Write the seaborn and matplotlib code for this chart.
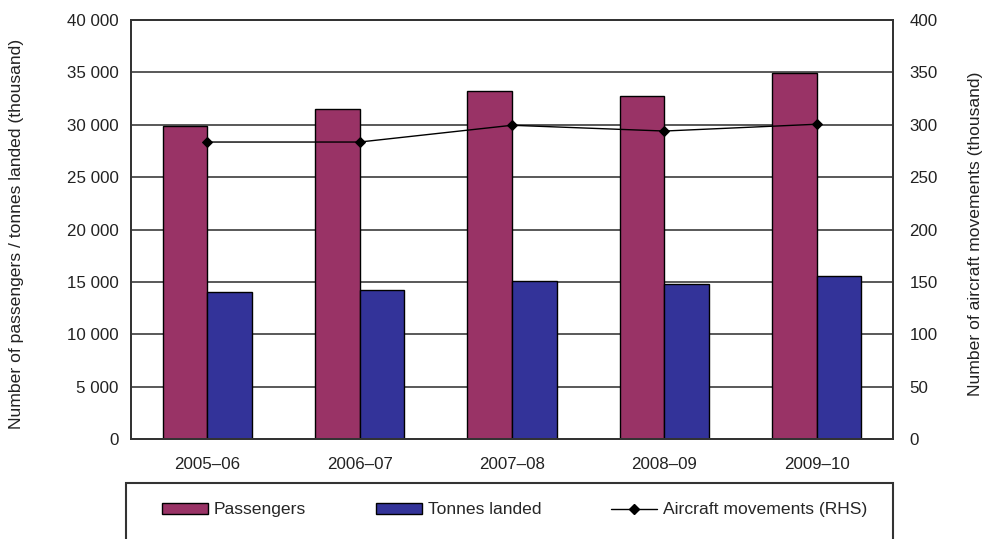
import pandas as pd
import seaborn as sns
import matplotlib.pyplot as plt
from matplotlib.patches import Rectangle, Patch
from matplotlib.lines import Line2D
from matplotlib.ticker import FuncFormatter, FixedLocator

years = ["2005–06", "2006–07", "2007–08", "2008–09", "2009–10"]
passengers = [29850, 31500, 33200, 32750, 34900]
tonnes = [14000, 14200, 15100, 14800, 15550]
aircraft = [283.5, 283.5, 299.5, 294, 300.5]

c_pass = "#993366"
c_tonnes = "#333399"

sns.set_style("white")
plt.rcParams['font.family'] = ['Liberation Sans', 'DejaVu Sans']

bars = pd.DataFrame({
    'year': years * 2,
    'series': ['Passengers'] * len(years) + ['Tonnes landed'] * len(years),
    'value': passengers + tonnes,
})
lines = pd.DataFrame({'year': years, 'aircraft': aircraft})

fig = plt.figure(figsize=(9.83, 5.39), dpi=100)
ax = fig.add_axes([0.1333, 0.1855, 0.7751, 0.7774])

sns.barplot(data=bars, x='year', y='value', hue='series',
            palette=[c_pass, c_tonnes], width=0.585, dodge=True,
            edgecolor='black', linewidth=1, saturation=1, ax=ax, legend=False)
ax.set_ylim(0, 40000)
ax.set_xlim(-0.5, len(years) - 0.5)
ax.set_yticks(range(0, 40001, 5000))
ax.yaxis.set_major_formatter(FuncFormatter(lambda v, p: f"{int(v):,}".replace(",", " ")))
ax.set_axisbelow(True)
ax.yaxis.grid(True, color='#2b2b2b', linewidth=1.1)
ax.set_xlabel("")
ax.set_ylabel("Number of passengers / tonnes landed (thousand)", fontsize=12.6, color='#222222')
ax.yaxis.set_label_coords(-0.141, 0.49)
ax.tick_params(axis='y', length=0, pad=9, labelsize=12.2, colors='#222222')
ax.tick_params(axis='x', length=0, pad=13, labelsize=12.2, colors='#222222')
ax.xaxis.set_minor_locator(FixedLocator([i + 0.5 for i in range(len(years) - 1)]))
ax.tick_params(axis='x', which='minor', direction='in', length=4, width=1, color='#333333')
for s in ax.spines.values():
    s.set_color('#333333')
    s.set_linewidth(1.3)

ax2 = ax.twinx()
sns.pointplot(data=lines, x='year', y='aircraft', color='black', markers='D',
              linestyles='-', markersize=5, linewidth=1, ax=ax2)
ax2.set_ylim(0, 400)
ax2.set_yticks(range(0, 401, 50))
ax2.set_xlim(-0.5, len(years) - 0.5)
ax2.set_ylabel("Number of aircraft movements (thousand)", fontsize=12.6, color='#222222')
ax2.yaxis.set_label_coords(1.099, 0.49)
ax2.tick_params(axis='y', length=0, pad=12, labelsize=12.2, colors='#222222')
for s in ax2.spines.values():
    s.set_color('#333333')
    s.set_linewidth(1.3)

handles = [
    Patch(facecolor=c_pass, edgecolor='black', linewidth=1),
    Patch(facecolor=c_tonnes, edgecolor='black', linewidth=1),
    Line2D([], [], color='black', marker='D', markersize=5, linewidth=1),
]
fig.legend(handles, ["Passengers", "Tonnes landed", "Aircraft movements (RHS)"],
           loc='center left', bbox_to_anchor=(0.165, 0.054), ncol=3, frameon=False,
           fontsize=12.6, handlelength=2.6, handleheight=0.6, handletextpad=0.35,
           columnspacing=4.0, borderpad=0, borderaxespad=0)
fig.add_artist(Rectangle((0.128, -0.1), 0.780, 0.204, transform=fig.transFigure,
                         fill=False, edgecolor='#333333', linewidth=1.5, clip_on=False))

fig.savefig("out.png", dpi=100)
